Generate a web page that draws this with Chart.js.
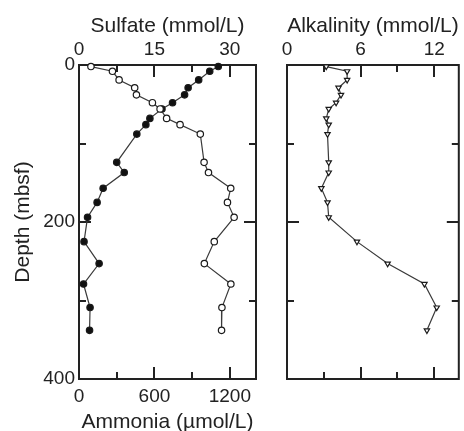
<!DOCTYPE html>
<html>
<head>
<meta charset="utf-8">
<script src="https://cdn.jsdelivr.net/npm/chart.js@4.4.1/dist/chart.umd.min.js"></script>
<style>
  html, body { margin: 0; padding: 0; background: #fff; }
  #wrap { position: relative; width: 464px; height: 431px; }
  #chemChart { position: absolute; left: 0; top: 0; }
  #alkChart { position: absolute; left: 270px; top: 0; }
</style>
</head>
<body>
<div id="wrap">
  <canvas id="chemChart" width="270" height="431"></canvas>
  <canvas id="alkChart" width="194" height="431"></canvas>
</div>
<script>
// pore-water profiles, depth in mbsf
const depth = [2, 8, 19, 29, 38, 48, 56, 68, 76, 88, 124, 137, 157, 175, 194, 225, 253, 279, 309, 338];
const sulfate = [27.7, 26.0, 23.8, 21.7, 21.0, 18.6, 16.5, 14.1, 13.3, 11.5, 7.5, 9.0, 4.8, 3.6, 1.7, 1.0, 4.0, 0.9, 2.2, 2.1];
const ammonia = [95, 266, 319, 443, 457, 584, 645, 697, 804, 965, 995, 1030, 1207, 1181, 1234, 1076, 997, 1208, 1137, 1134];
const alkalinity = [3.2, 4.9, 4.9, 4.2, 4.4, 4.0, 3.4, 3.2, 3.4, 3.3, 3.4, 3.4, 2.8, 3.3, 3.4, 5.7, 8.2, 11.2, 12.2, 11.4];

// tick positions; empty label = minor tick
const depthTicks = [0, 100, 200, 300, 400];
const depthLabels = ['0', '', '200', '', '400'];
const sulfateTicks = [0, 7.5, 15, 22.5, 30];
const sulfateLabels = ['0', '', '15', '', '30'];
const ammoniaTicks = [0, 300, 600, 900, 1200];
const ammoniaLabels = ['0', '', '600', '', '1200'];
const alkTicks = [0, 3, 6, 9, 12];
const alkLabels = ['0', '', '6', '', '12'];

const ink = '#222';
const family = '"Liberation Sans", Arial, Helvetica, sans-serif';
const tickFont = { family: family, size: 19, lineHeight: 1 };
const titleFont = { family: family, size: 21, lineHeight: 1 };

// box around the plot area plus inward tick marks
function framePlugin(axes) {
  return {
    id: 'frame',
    beforeDatasetsDraw(chart) {
      const ctx = chart.ctx;
      const a = chart.chartArea;
      ctx.save();
      ctx.strokeStyle = ink;
      ctx.lineWidth = 2;
      ctx.strokeRect(a.left, a.top, a.right - a.left, a.bottom - a.top);
      axes.forEach(ax => {
        const scale = chart.scales[ax.id];
        ax.values.forEach((v, i) => {
          const len = ax.labels[i] ? 12 : 7;
          const p = Math.round(scale.getPixelForValue(v));
          ax.edges.forEach(edge => {
            ctx.beginPath();
            if (edge === 'top') { ctx.moveTo(p, a.top); ctx.lineTo(p, a.top + len); }
            if (edge === 'bottom') { ctx.moveTo(p, a.bottom); ctx.lineTo(p, a.bottom - len); }
            if (edge === 'left') { ctx.moveTo(a.left, p); ctx.lineTo(a.left + len, p); }
            if (edge === 'right') { ctx.moveTo(a.right, p); ctx.lineTo(a.right - len, p); }
            ctx.stroke();
          });
        });
      });
      ctx.restore();
    }
  };
}

function valueAxis(position, min, max, ticks, labels, title, size) {
  return {
    type: 'linear',
    position: position,
    min: min,
    max: max,
    grid: { display: false, drawTicks: false },
    border: { display: false },
    afterBuildTicks: s => { s.ticks = ticks.map(value => ({ value })); },
    afterFit: s => { s.height = size; },
    ticks: {
      autoSkip: false,
      maxRotation: 0,
      padding: position === 'top' ? 5.5 : 8.5,
      color: ink,
      font: tickFont,
      callback: (v, i) => labels[i]
    },
    title: {
      display: !!title,
      text: title,
      color: ink,
      font: titleFont,
      padding: position === 'top' ? { top: 16, bottom: 0 } : { top: 0, bottom: -2 }
    }
  };
}

function depthAxis(show) {
  return {
    type: 'linear',
    position: 'left',
    reverse: true,
    min: 0,
    max: 400,
    display: show,
    grid: { display: false, drawTicks: false },
    border: { display: false },
    afterBuildTicks: s => { s.ticks = depthTicks.map(value => ({ value })); },
    afterFit: s => { s.width = show ? 79 : 0; },
    ticks: {
      autoSkip: false,
      padding: 4,
      color: ink,
      font: tickFont,
      callback: (v, i) => depthLabels[i]
    },
    title: {
      display: true,
      text: 'Depth (mbsf)',
      color: ink,
      font: titleFont,
      padding: { top: 12.5, bottom: 0 }
    }
  };
}

function profile(values, axisId, style) {
  return Object.assign({
    data: depth.map((d, i) => ({ x: values[i], y: d })),
    xAxisID: axisId,
    yAxisID: 'y',
    showLine: true,
    tension: 0,
    borderColor: '#3a3a3a',
    borderWidth: 1.2,
    pointRadius: 3.2,
    pointBorderWidth: 1.2,
    pointBorderColor: '#1a1a1a',
    clip: false
  }, style);
}

const baseOptions = {
  responsive: false,
  animation: false,
  plugins: { legend: { display: false }, tooltip: { enabled: false } }
};

new Chart(document.getElementById('chemChart'), {
  type: 'scatter',
  data: {
    datasets: [
      profile(ammonia, 'x2', { pointStyle: 'circle', pointBackgroundColor: '#fff' }),
      profile(sulfate, 'x', { pointStyle: 'circle', pointBackgroundColor: '#111' })
    ]
  },
  options: Object.assign({}, baseOptions, {
    layout: { padding: { left: 0, right: 14, top: 0, bottom: 0 } },
    scales: {
      x: valueAxis('top', 0, 35.2, sulfateTicks, sulfateLabels, 'Sulfate (mmol/L)', 65),
      x2: valueAxis('bottom', 0, 1408, ammoniaTicks, ammoniaLabels, 'Ammonia (\u00b5mol/L)', 52),
      y: depthAxis(true)
    }
  }),
  plugins: [framePlugin([
    { id: 'x', values: sulfateTicks, labels: sulfateLabels, edges: ['top'] },
    { id: 'x2', values: ammoniaTicks, labels: ammoniaLabels, edges: ['bottom'] },
    { id: 'y', values: depthTicks, labels: depthLabels, edges: ['left', 'right'] }
  ])]
});

new Chart(document.getElementById('alkChart'), {
  type: 'scatter',
  data: {
    datasets: [
      profile(alkalinity, 'x', { pointStyle: 'triangle', rotation: 180, pointRadius: 3.1, pointBackgroundColor: '#fff' })
    ]
  },
  options: Object.assign({}, baseOptions, {
    layout: { padding: { left: 17, right: 2, top: 0, bottom: 52 } },
    scales: {
      x: valueAxis('top', 0, 14, alkTicks, alkLabels, 'Alkalinity (mmol/L)', 65),
      y: depthAxis(false)
    }
  }),
  plugins: [framePlugin([
    { id: 'x', values: alkTicks, labels: alkLabels, edges: ['top', 'bottom'] },
    { id: 'y', values: depthTicks, labels: depthLabels, edges: ['left', 'right'] }
  ])]
});
</script>
</body>
</html>
